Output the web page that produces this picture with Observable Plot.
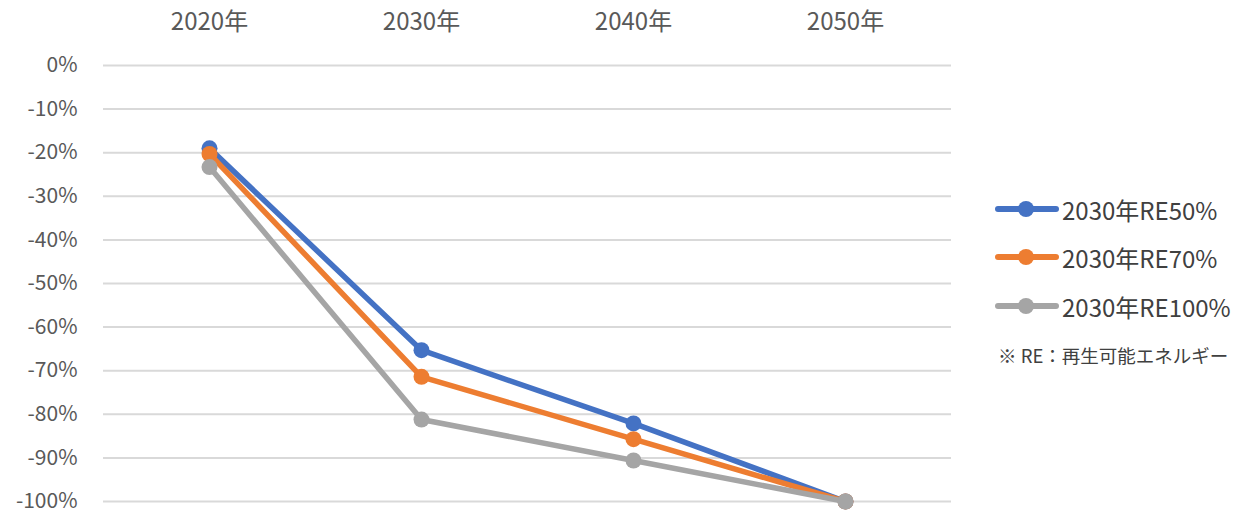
<!DOCTYPE html>
<html><head><meta charset="utf-8">
<script src="https://cdn.jsdelivr.net/npm/d3@7"></script>
<script src="https://cdn.jsdelivr.net/npm/@observablehq/plot@0.6"></script>
<style>
body{margin:0;background:#fff;font-family:"Noto Sans CJK JP","Noto Sans",sans-serif;}
#wrap{position:relative;width:1244px;height:513px;overflow:hidden;}
#legend{position:absolute;left:0;top:0;width:1244px;height:513px;pointer-events:none;}
.row{position:absolute;left:995px;height:30px;display:flex;align-items:center;color:#404040;font-size:24px;}
.row svg{margin-right:3px;}
.note{position:absolute;left:998px;color:#404040;font-size:18.5px;white-space:nowrap;}
</style></head><body><div id="wrap"><div id="legend"></div></div>
<script>
const years = ["2020年", "2030年", "2040年", "2050年"];
const seriesNames = ["2030年RE50%", "2030年RE70%", "2030年RE100%"];
const re50 = [-19.0, -65.3, -82.1, -100];
const re70 = [-20.3, -71.4, -85.7, -100];
const re100 = [-23.3, -81.2, -90.6, -100];
const colors = ["#4472C4", "#ED7D31", "#A5A5A5"];
const yTicks = [0, -10, -20, -30, -40, -50, -60, -70, -80, -90, -100];
const footnote = "※ RE：再生可能エネルギー";

const seriesValues = [re50, re70, re100];
const data = [];
seriesNames.forEach((s, i) => years.forEach((y, j) => data.push({series: s, year: y, value: seriesValues[i][j]})));

const marks = [
  Plot.ruleY(yTicks, {stroke: "#D9D9D9", strokeWidth: 2}),
  Plot.axisX({anchor: "top", tickSize: 0, tickPadding: 36, fontSize: 24, color: "#595959", label: null}),
  Plot.axisY({ticks: yTicks, tickSize: 0, tickPadding: 26, fontSize: 21, color: "#595959", label: null, tickFormat: d => `${d}%`})
];
seriesNames.forEach(s => {
  const sub = data.filter(d => d.series === s);
  marks.push(Plot.line(sub, {x: "year", y: "value", stroke: "series", strokeWidth: 5.5, strokeLinejoin: "round", strokeLinecap: "round"}));
  marks.push(Plot.dot(sub, {x: "year", y: "value", fill: "series", r: 8}));
});

const chart = Plot.plot({
  width: 1244,
  height: 513,
  marginLeft: 103,
  marginRight: 293,
  marginTop: 65,
  marginBottom: 12,
  style: {fontFamily: '"Noto Sans CJK JP","Noto Sans",sans-serif', background: "#fff", overflow: "visible"},
  x: {type: "point", domain: years, padding: 0.5, axis: null},
  y: {domain: [-100, 0], axis: null},
  color: {domain: seriesNames, range: colors},
  marks
});
document.getElementById("wrap").prepend(chart);

const legend = document.getElementById("legend");
const rowY = [209, 257, 306];
seriesNames.forEach((s, i) => {
  const row = document.createElement("div");
  row.className = "row";
  row.style.top = (rowY[i] - 15) + "px";
  row.innerHTML = `<svg width="64" height="20"><line x1="3" y1="10" x2="61" y2="10" stroke="${colors[i]}" stroke-width="6" stroke-linecap="round"/><circle cx="31" cy="10" r="8" fill="${colors[i]}"/></svg><span>${s}</span>`;
  legend.appendChild(row);
});
const note = document.createElement("div");
note.className = "note";
note.style.top = (356 - 14) + "px";
note.textContent = footnote;
legend.appendChild(note);
</script>
</body></html>
